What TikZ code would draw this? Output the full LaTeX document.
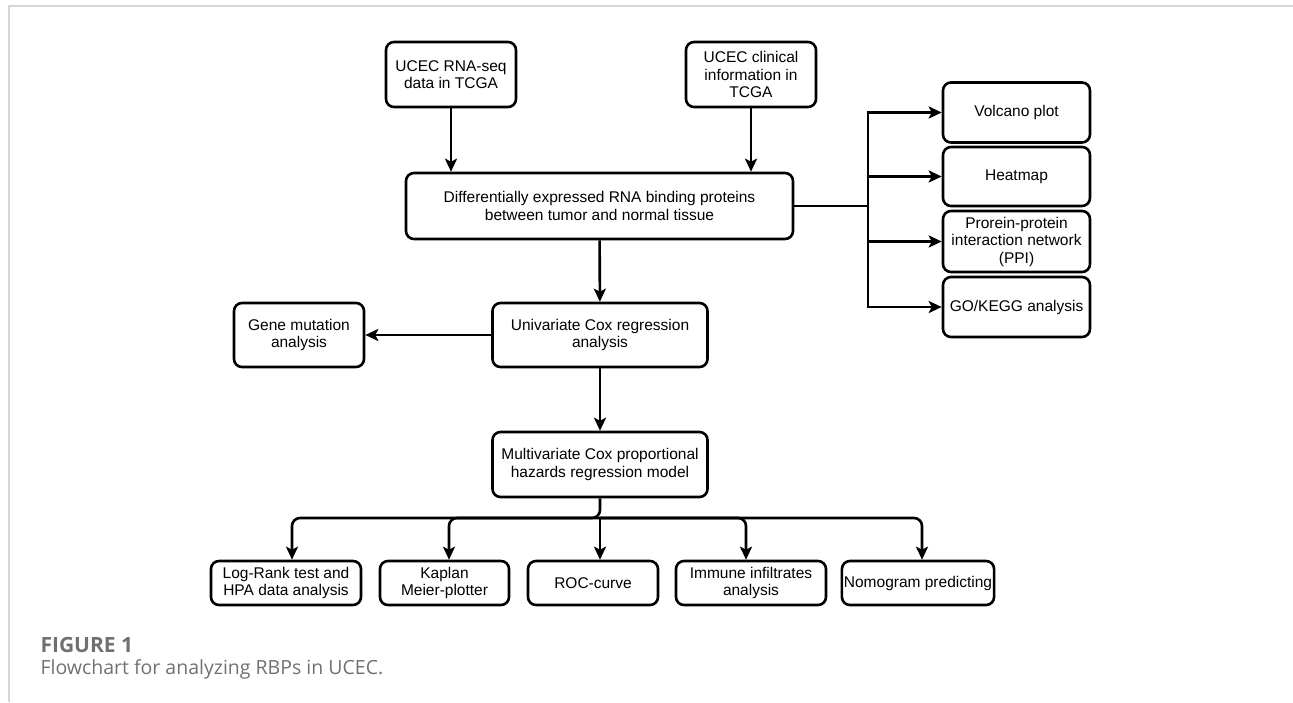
\documentclass[tikz,border=0pt]{standalone}
\usepackage{fontspec}
\setmainfont{Liberation Sans}
\newfontfamily\captionfont{Open Sans}
\usetikzlibrary{arrows.meta, positioning}
\definecolor{framegray}{HTML}{D6D6D6}
\definecolor{captiongray}{HTML}{707070}
\tikzset{
  box/.style={rectangle,draw,rounded corners=8pt,line width=2.6pt,align=center,inner sep=2pt,font=\fontsize{15.5}{17.5}\selectfont},
  line/.style={-{Stealth[length=13pt,width=12pt,inset=3pt]},line width=2.6pt}
}

\begin{document}
\begin{tikzpicture}[x=1pt,y=-1pt]
\useasboundingbox (0,0) rectangle (1293,702);
\draw[framegray, line width=1.5pt] (9,702) -- (9,6) -- (1293,6);

\node[box, minimum width=130pt, minimum height=65pt] (rnaseq) at (451,74.5) {UCEC RNA-seq\\data in TCGA};
\node[box, minimum width=130pt, minimum height=65pt] (clinical) at (751,74.5) {UCEC clinical\\information in\\TCGA};
\node[box, minimum width=387pt, minimum height=66pt] (diff) at (599.5,206) {Differentially expressed RNA binding proteins\\between tumor and normal tissue};
\node[box, minimum width=147pt, minimum height=60pt] (volcano) at (1016.5,112.5) {Volcano plot};
\node[box, minimum width=147pt, minimum height=59pt] (heatmap) at (1016.5,176.5) {Heatmap};
\node[box, minimum width=147pt, minimum height=61pt] (ppi) at (1016.5,241.5) {Prorein-protein\\interaction network\\(PPI)};
\node[box, minimum width=147pt, minimum height=60pt] (gokegg) at (1016.5,307) {GO/KEGG analysis};
\node[box, minimum width=215pt, minimum height=64pt] (univar) at (600,335) {Univariate Cox regression\\analysis};
\node[box, minimum width=130pt, minimum height=64pt] (mutation) at (299,335) {Gene mutation\\analysis};
\node[box, minimum width=215pt, minimum height=65pt] (multivar) at (600,464.5) {Multivariate Cox proportional\\hazards regression model};
\node[box, minimum width=150pt, minimum height=44pt] (logrank) at (286,583) {Log-Rank test and\\HPA data analysis};
\node[box, minimum width=129pt, minimum height=44pt] (kaplan) at (444.5,583) {Kaplan\\Meier-plotter};
\node[box, minimum width=130pt, minimum height=44pt] (roc) at (593,583) {ROC-curve};
\node[box, minimum width=150pt, minimum height=44pt] (immune) at (751,583) {Immune infiltrates\\analysis};
\node[box, minimum width=150pt, minimum height=44pt] (nomogram) at (918,583) {Nomogram predicting};

\coordinate (split) at (868,206);
\coordinate (bus) at (600,518);

\draw[line] (rnaseq) -- (rnaseq |- diff.north);
\draw[line] (clinical) -- (clinical |- diff.north);
\draw[line] (diff) -- (univar);
\draw[line] (univar) -- (mutation);
\draw[line] (univar) -- (multivar);

% outputs of the differential analysis
\draw[line] (diff.east) -- (split) |- (volcano.west);
\draw[line] (split) |- (heatmap.west);
\draw[line] (split) |- (ppi.west);
\draw[line] (split) |- (gokegg.west);

% outputs of the multivariate model
\draw[line, rounded corners=8pt] (multivar.south) -- (bus) -| ([xshift=6pt]logrank.north);
\draw[line, rounded corners=8pt] (bus) -| ([xshift=4.5pt]kaplan.north);
\draw[line] (bus) -- (bus |- roc.north);
\draw[line, rounded corners=8pt] (bus) -| ([xshift=-5pt]immune.north);
\draw[line, rounded corners=8pt] (bus) -| ([xshift=4pt]nomogram.north);

\node[anchor=west, text=captiongray, font=\captionfont\bfseries\fontsize{21}{23}\selectfont] (fig) at (37,645) {FIGURE 1};
\node[anchor=west, text=captiongray, font=\captionfont\fontsize{19.5}{22}\selectfont] (cap) at (37,669) {Flowchart for analyzing RBPs in UCEC.};
\end{tikzpicture}
\end{document}
